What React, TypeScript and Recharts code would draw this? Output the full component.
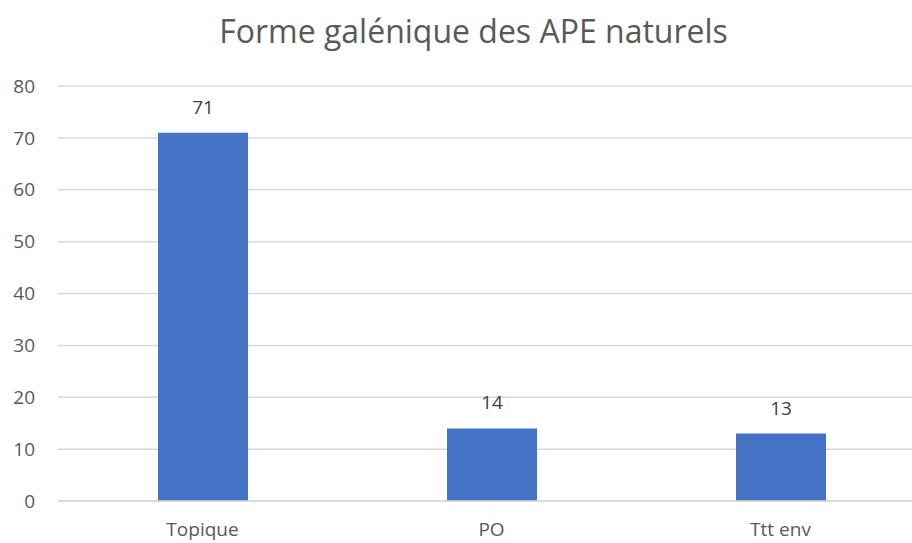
import { BarChart, Bar, XAxis, YAxis, CartesianGrid, LabelList } from "recharts";

const title = "Forme galénique des APE naturels";
const categories = ["Topique", "PO", "Ttt env"];
const values = [71, 14, 13];
const yTicks = [0, 10, 20, 30, 40, 50, 60, 70, 80];

const data = categories.map((name, i) => ({ name, value: values[i] }));

const FONT = "'Open Sans', 'Noto Sans', sans-serif";

export default function App() {
    return (
        <div style={{ position: "absolute", top: 0, left: 0, width: 912, height: 543, overflow: "hidden", background: "#fff" }}>
            <svg width={912} height={60} style={{ position: "absolute", top: 0, left: 0 }}>
                <text x={473.5} y={43} textAnchor="middle" fontFamily={FONT} fontSize={32} fill="#595959">
                    {title}
                </text>
            </svg>
            <div style={{ position: "absolute", top: 0, left: 0 }}>
                <BarChart width={925} height={543} data={data} margin={{ top: 86, right: 0, left: 0, bottom: 0 }}>
                    <CartesianGrid vertical={false} stroke="#d9d9d9" strokeWidth={1.5} />
                    <XAxis
                        dataKey="name"
                        height={42}
                        tickSize={0}
                        tickMargin={22}
                        tickLine={false}
                        axisLine={{ stroke: "#d9d9d9", strokeWidth: 1.5 }}
                        tick={{ fill: "#595959", fontSize: 19, fontFamily: FONT }}
                    />
                    <YAxis
                        width={58}
                        domain={[0, 80]}
                        ticks={yTicks}
                        tickSize={0}
                        tickMargin={23}
                        tickLine={false}
                        axisLine={false}
                        tick={{ fill: "#595959", fontSize: 19, fontFamily: FONT }}
                    />
                    <Bar dataKey="value" fill="#4472C4" barSize={90} isAnimationActive={false}>
                        <LabelList dataKey="value" position="top" offset={19} fill="#404040" fontSize={19} fontFamily={FONT} />
                    </Bar>
                </BarChart>
            </div>
        </div>
    );
}
